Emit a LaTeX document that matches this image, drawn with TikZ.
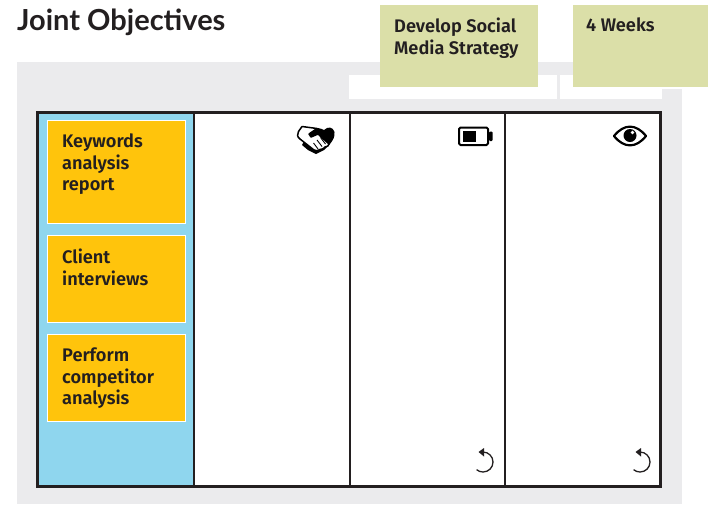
\documentclass[tikz,border=0pt]{standalone}
\usepackage{fontspec}
\setmainfont{Lato}
\newfontfamily\handfont{Fira Sans}[UprightFont=* SemiBold]
\definecolor{panelgray}{HTML}{EBEBED}
\definecolor{ink}{HTML}{231F20}
\definecolor{sky}{HTML}{8FD6EE}
\definecolor{amber}{HTML}{FFC40C}
\definecolor{olive}{HTML}{DBDFA8}
\tikzset{
  x=1pt,y=-1pt,
  box/.style={anchor=north west,inner sep=0pt,outer sep=0pt},
  note/.style={box,fill=amber,draw=white,line width=1.2pt,minimum width=138pt},
  topnote/.style={box,fill=olive,minimum height=82pt},
  notetext/.style={anchor=north west,inner sep=0pt,align=left,font=\handfont\fontsize{18.2}{21.5}\selectfont,text=ink},
  icon/.style={line width=2pt,draw=black,line join=round},
}
\begin{document}
\begin{tikzpicture}
\useasboundingbox (0,0) rectangle (708,504);
\fill[panelgray] (17,62) rectangle (682,504);
\fill[white] (349,75) rectangle (557,99);
\fill[white] (560,75) rectangle (662,99);
\fill[white] (662,62) rectangle (682,89);
\node[anchor=west,inner sep=0pt,text=ink,font=\fontsize{29}{31}\selectfont\bfseries] (title) at (17,22) {Joint Objectives};
% board
\node[box,fill=white,minimum width=623pt,minimum height=374pt] (board) at (37.5,112.5) {};
\node[box,fill=sky,minimum width=156pt,minimum height=374pt] (col0) at (37.5,112.5) {};
\node[box,draw=ink,line width=2pt,minimum width=156pt,minimum height=374pt] (col1) at (193.5,112.5) {};
\node[box,draw=ink,line width=2pt,minimum width=155.5pt,minimum height=374pt] (col2) at (349.5,112.5) {};
\node[box,draw=ink,line width=2pt,minimum width=155.5pt,minimum height=374pt] (col3) at (505,112.5) {};
\node[box,draw=ink,line width=3pt,minimum width=623pt,minimum height=374pt] (frame) at (37.5,112.5) {};
% yellow notes
\node[note,minimum height=103pt] (n1) at (47.5,120.5) {};
\node[note,minimum height=87pt] (n2) at (47.5,235.5) {};
\node[note,minimum height=87pt] (n3) at (47.5,334.5) {};
\node[notetext] (t1) at (62,134) {Keywords\\analysis\\report};
\node[notetext] (t2) at (62,249) {Client\\interviews};
\node[notetext] (t3) at (62,348) {Perform\\competitor\\analysis};
% green notes
\node[topnote,minimum width=158pt] (g1) at (380,5) {};
\node[topnote,minimum width=135pt] (g2) at (573,5) {};
\node[notetext] (t4) at (394,18) {Develop Social\\Media Strategy};
\node[notetext] (t5) at (586,18) {4 Weeks};
% handshake
\fill[black] (310,129) .. controls (316,127) and (320,128) .. (324,130) .. controls (328,126) and (333,127) .. (334.5,132) .. controls (335,137) and (333,140) .. (330,144) -- (324,150) -- (316,154) -- (308,150) -- (302,145) -- cycle;
\draw[black,fill=white,line width=1.5pt,line join=round] (302,126.5) -- (317,128.5) -- (309,134) -- (311,137) -- (318,134) -- (329,144) .. controls (329,146) and (327,146.5) .. (325,147) .. controls (324,149) and (322,149) .. (320,149.5) .. controls (318,151) and (316,151) .. (314,150) -- (300,139) .. controls (297,137) and (297,134) .. (298.5,131.5) -- cycle;
\draw[black,line width=.9pt] (317,140) -- (322,146.5) (320.5,137.5) -- (325.5,144) (313.5,143) -- (318,149);
% battery
\draw[icon,rounded corners=1.5pt] (459,127.5) rectangle (488,145);
\fill[black] (462.5,131) rectangle (476,141.5);
\fill[black,rounded corners=1pt] (489,131.5) rectangle (492.5,141);
% eye
\draw[icon,line width=2.2pt] (614,136) .. controls (624,123.5) and (636,123.5) .. (646,136) .. controls (636,148.5) and (624,148.5) .. (614,136) -- cycle;
\fill[black] (630,135.5) circle (6.5);
\fill[white] (632.5,132.5) circle (1.9);
% undo arrows
\draw[ink,line width=1.3pt] (483,452) arc[start angle=90,end angle=-130,x radius=10,y radius=-10];
\fill[ink] (478.5,452) -- (484,448) -- (484,456.5) -- cycle;
\draw[ink,line width=1.3pt] (640,452) arc[start angle=90,end angle=-130,x radius=10,y radius=-10];
\fill[ink] (635.5,452) -- (641,448) -- (641,456.5) -- cycle;
\end{tikzpicture}
\end{document}
